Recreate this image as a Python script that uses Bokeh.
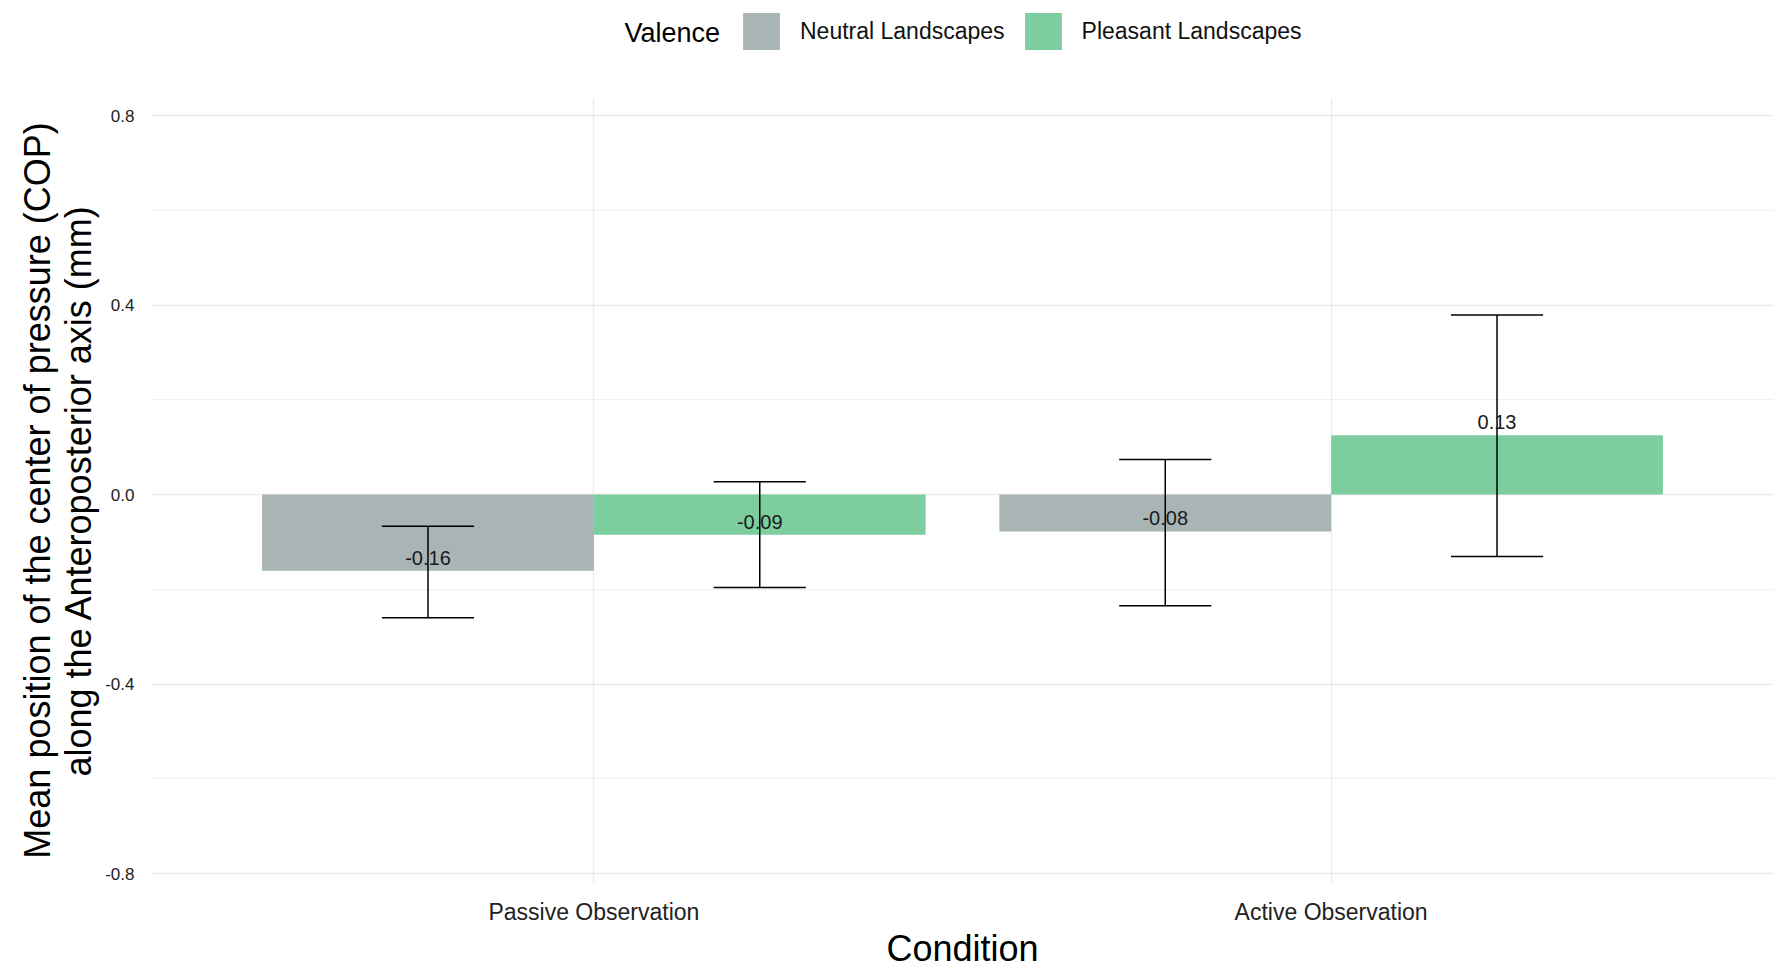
from bokeh.plotting import figure
from bokeh.layouts import column
from bokeh.models import (ColumnDataSource, FactorRange, Range1d, FixedTicker,
                          Legend, LegendItem, Label)
from bokeh.transform import dodge
from bokeh.core.properties import value
from bokeh.embed import file_html
from bokeh.resources import INLINE

# ---- data ----
conditions = ["Passive Observation", "Active Observation"]
valences = ["Neutral Landscapes", "Pleasant Landscapes"]

neutral_mean = [-0.161, -0.078]
neutral_lower = [-0.260, -0.235]
neutral_upper = [-0.067, 0.074]
neutral_text = ["-0.16", "-0.08"]

pleasant_mean = [-0.085, 0.125]
pleasant_lower = [-0.196, -0.131]
pleasant_upper = [0.027, 0.379]
pleasant_text = ["-0.09", "0.13"]

y_ticks = [-0.8, -0.4, 0.0, 0.4, 0.8]
y_tick_labels = ["-0.8", "-0.4", "0.0", "0.4", "0.8"]
y_minor = [-0.6, -0.2, 0.2, 0.6]

legend_title = "Valence"
colors = ["#A9B5B5", "#7DCE9F"]
FONT = "Liberation Sans"

W = 1784
TOP_H = 97
MAIN_H = 971 - TOP_H
FRAME_L = 151
FRAME_R = 1773

# ---- legend strip (top); its frame is aligned with the main frame ----
lf = figure(width=W, height=TOP_H, x_range=Range1d(FRAME_L, FRAME_R),
            y_range=Range1d(0, TOP_H),
            output_backend="svg", toolbar_location=None, min_border=0,
            min_border_left=FRAME_L, min_border_right=W - FRAME_R,
            x_axis_type=None, y_axis_type=None)
lf.grid.visible = False
lf.outline_line_color = None

legend_items = []
for name, col in zip(valences, colors):
    # zero-height proxy bar outside the visible range, used only for the legend swatch
    rr = lf.vbar(x=[0], top=[0], bottom=[0], width=1, fill_color=col, line_color=None)
    legend_items.append(LegendItem(label=name, renderers=[rr]))

legend = Legend(items=legend_items, orientation="horizontal",
                location=(738 - FRAME_L, 43),
                glyph_width=46, glyph_height=46, label_standoff=16, spacing=15,
                padding=0, margin=0, border_line_color=None,
                background_fill_alpha=0,
                label_text_font=FONT, label_text_font_size="23px",
                label_text_color="#111111")
lf.add_layout(legend)
lf.add_layout(Label(x=624, y=TOP_H - 32, text=legend_title, text_font=FONT,
                    text_font_size="27px", text_color="#000000",
                    text_baseline="middle", text_align="left"))

# ---- main figure ----
p = figure(width=W, height=MAIN_H,
           x_range=FactorRange(factors=conditions, range_padding=0.1,
                               range_padding_units="absolute"),
           y_range=Range1d(-0.821, 0.838),
           output_backend="svg", toolbar_location=None,
           min_border_left=FRAME_L, min_border_right=W - FRAME_R,
           min_border_top=0, min_border_bottom=88)
p.outline_line_color = None
p.background_fill_color = "white"

bar_w = 0.45
cap_w = 0.125
series = [
    (neutral_mean, neutral_lower, neutral_upper, neutral_text, -bar_w / 2, colors[0]),
    (pleasant_mean, pleasant_lower, pleasant_upper, pleasant_text, bar_w / 2, colors[1]),
]

for mean, lo, hi, txt, off, col in series:
    src = ColumnDataSource(dict(cond=conditions, mean=mean, lo=lo, hi=hi, txt=txt))
    p.vbar(x=dodge("cond", off, range=p.x_range), top="mean", bottom=0,
           width=bar_w, source=src, fill_color=col, line_color=None)
    # error bars
    p.segment(x0=dodge("cond", off, range=p.x_range), y0="lo",
              x1=dodge("cond", off, range=p.x_range), y1="hi",
              source=src, line_color="black", line_width=1.5)
    p.segment(x0=dodge("cond", off - cap_w / 2, range=p.x_range), y0="lo",
              x1=dodge("cond", off + cap_w / 2, range=p.x_range), y1="lo",
              source=src, line_color="black", line_width=1.5)
    p.segment(x0=dodge("cond", off - cap_w / 2, range=p.x_range), y0="hi",
              x1=dodge("cond", off + cap_w / 2, range=p.x_range), y1="hi",
              source=src, line_color="black", line_width=1.5)
    p.text(x=dodge("cond", off, range=p.x_range), y="mean", text="txt", source=src,
           text_align="center", text_baseline="middle", y_offset=-13,
           text_font=value(FONT), text_font_size="20px", text_color="#1a1a1a")

# ---- axes ----
p.yaxis.ticker = FixedTicker(ticks=y_ticks, minor_ticks=y_minor)
p.yaxis.major_label_overrides = {t: l for t, l in zip(y_ticks, y_tick_labels)}
p.yaxis.axis_label = "Mean position of the center of pressure (COP)\nalong the Anteroposterior axis (mm)"
p.xaxis.axis_label = "Condition"

for ax in (p.xaxis, p.yaxis):
    ax.axis_line_color = None
    ax.major_tick_line_color = None
    ax.minor_tick_line_color = None
    ax.major_tick_out = 0
    ax.major_tick_in = 0
    ax.minor_tick_out = 0
    ax.minor_tick_in = 0
    ax.major_label_text_font = FONT
    ax.major_label_text_color = "#222222"
    ax.axis_label_text_font = FONT
    ax.axis_label_text_font_style = "normal"
    ax.axis_label_text_color = "#000000"
    ax.axis_label_text_font_size = "36px"

p.yaxis.major_label_text_font_size = "17px"
p.yaxis.major_label_standoff = 17
p.yaxis.axis_label_standoff = 3
p.yaxis.axis_label_text_line_height = 1.0
p.xaxis.major_label_text_font_size = "23px"
p.xaxis.major_label_standoff = 15
p.xaxis.axis_label_standoff = 0

# ---- grid ----
p.xgrid.grid_line_color = "#EBEBEB"
p.xgrid.grid_line_width = 1.3
p.ygrid.grid_line_color = "#EBEBEB"
p.ygrid.grid_line_width = 1.3
p.ygrid.minor_grid_line_color = "#F0F0F0"
p.ygrid.minor_grid_line_width = 1.0

layout = column(lf, p, spacing=0)
open("out.html", "w").write(file_html(layout, INLINE))
